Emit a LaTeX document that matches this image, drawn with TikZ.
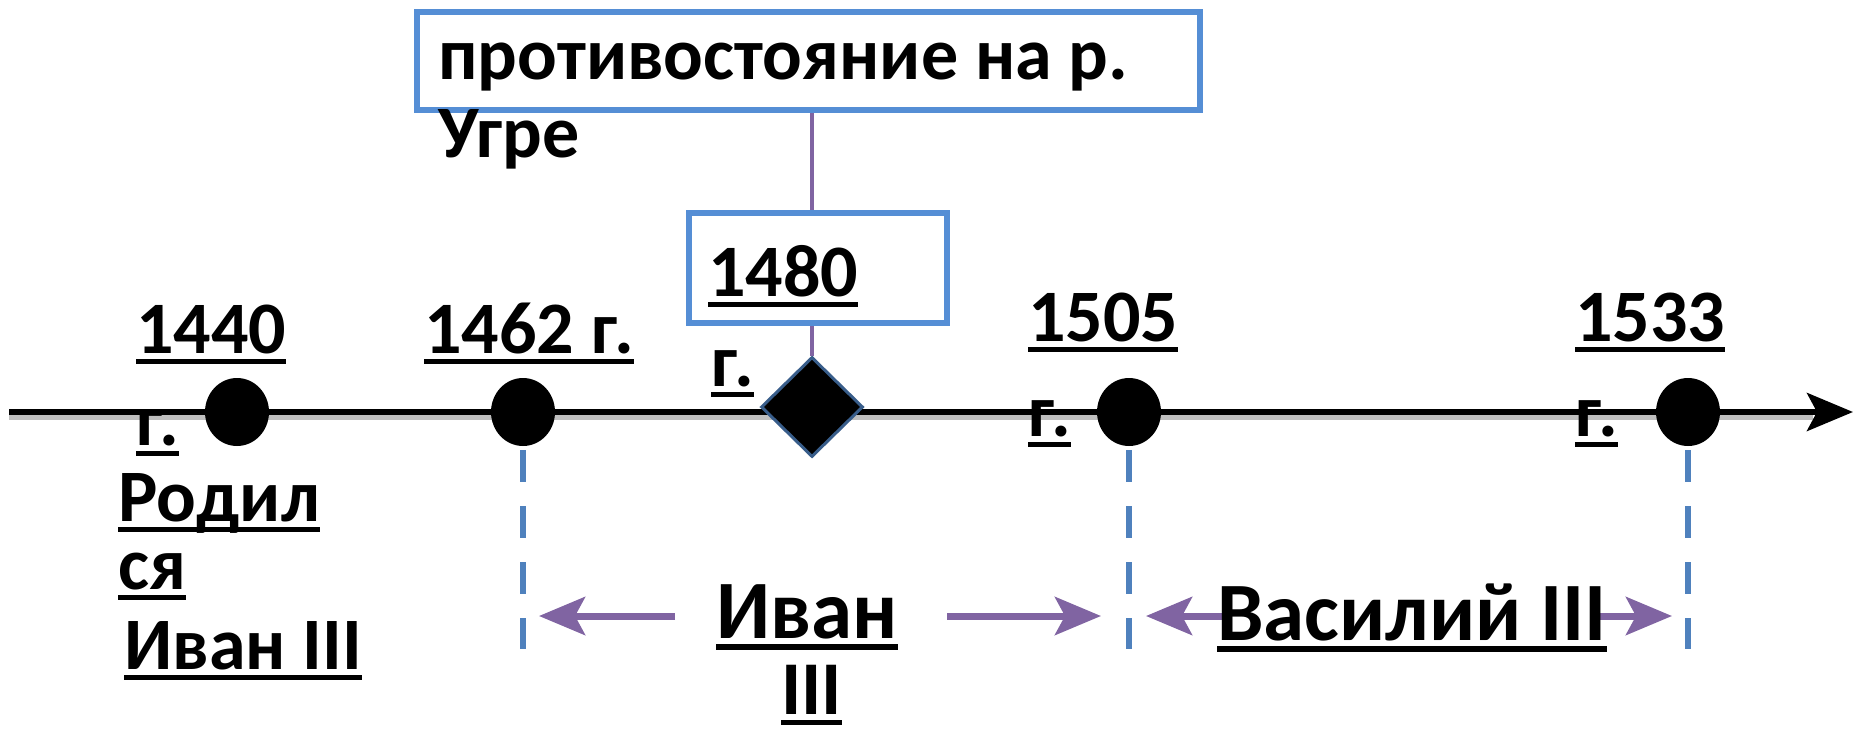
\documentclass[tikz,border=0pt]{standalone}
\usepackage{fontspec}
\setmainfont{Carlito}
\usetikzlibrary{arrows.meta,shapes.geometric}
\definecolor{boxblue}{HTML}{558ED5}
\definecolor{dashblue}{HTML}{4F81BD}
\definecolor{vio}{HTML}{8064A2}
\definecolor{diaedge}{HTML}{385D8A}
\newcommand\myul[1]{\setbox0\hbox{#1}\rlap{\rule[-0.15em]{\wd0}{0.075em}}\box0}
\begin{document}
\begin{tikzpicture}[x=1pt,y=-1pt,
  lbl/.style={inner sep=0pt, anchor=base west, font=\fontsize{74}{88}\selectfont\bfseries},
  biglbl/.style={inner sep=0pt, anchor=base west, font=\fontsize{83}{98}\selectfont\bfseries},
  dot/.style={ellipse, fill=black, inner sep=0pt, minimum width=64pt, minimum height=68pt},
  evbox/.style={draw=boxblue, line width=6pt, inner sep=0pt},
  vline/.style={dashblue, line width=6pt, dash pattern=on 32pt off 24pt},
  period/.style={vio, line width=7pt, -{Stealth[length=46pt,width=38pt,inset=10pt]}},
  link/.style={vio, line width=4pt},
  shadowline/.style={black!25, line width=7pt}]
\useasboundingbox (0,0) rectangle (1857,735);

% axis
\coordinate (a0) at (9,412);
\coordinate (a1) at (1853,412);
\draw[shadowline] ([shift={(0,4)}]a0) -- ([shift={(-40,4)}]a1);
\draw[line width=6pt, -{Stealth[length=46pt,width=38pt,inset=10pt]}] (a0) -- (a1);

% boxes
\node[evbox, minimum width=783pt, minimum height=98pt] (top) at (808.5,61) {};
\node[evbox, minimum width=258pt, minimum height=110pt] (b1480) at (818,268) {};

% diamond
\node[diamond, fill=black, draw=diaedge, line width=3pt, inner sep=0pt,
      minimum width=102pt, minimum height=100pt] (d1480) at (812,407) {};

\draw[link] (top.south -| d1480.north) -- (b1480.north -| d1480.north);
\draw[link] (b1480.south -| d1480.north) -- (d1480.north);

% dots
\node[dot] (d1440) at (237,412) {};
\node[dot] (d1462) at (523,412) {};
\node[dot] (d1505) at (1129,412) {};
\node[dot] (d1533) at (1688,412) {};

% dashed verticals
\coordinate (v1b) at (523,649);
\coordinate (v2b) at (1129,649);
\coordinate (v3b) at (1688,649);
\draw[vline] ([yshift=-4pt]d1462.south) -- (v1b);
\draw[vline] ([yshift=-4pt]d1505.south) -- (v2b);
\draw[vline] ([yshift=-4pt]d1533.south) -- (v3b);

% period arrows
\coordinate (p1t) at (675,616);  \coordinate (p1h) at (539,616);
\coordinate (p2t) at (947,616);  \coordinate (p2h) at (1101,616);
\coordinate (p3t) at (1222,616); \coordinate (p3h) at (1146,616);
\coordinate (p4t) at (1593,616); \coordinate (p4h) at (1672,616);
\draw[period] (p1t) -- (p1h);
\draw[period] (p2t) -- (p2h);
\draw[period] (p3t) -- (p3h);
\draw[period] (p4t) -- (p4h);

% texts
\node[lbl] (t1) at (438,80) {противостояние на р.};
\node[lbl] (t2) at (438,158) {Угре};

\node[lbl] (y1440) at (136,353) {\myul{1440}};
\node[lbl] (g1440) at (136,445) {\myul{г.}};
\node[lbl] (r1) at (118,521) {\myul{Родил}};
\node[lbl] (r2) at (118,589) {\myul{ся}};
\node[lbl] (r3) at (124,669) {\myul{Иван III}};

\node[lbl] (y1462) at (424,353) {\myul{1462 г.}};
\node[lbl] (y1480) at (708,296) {\myul{1480}};
\node[lbl] (g1480) at (711,386) {\myul{г.}};
\node[lbl] (y1505) at (1028,341) {\myul{1505}};
\node[lbl] (g1505) at (1028,436) {\myul{г.}};
\node[lbl] (y1533) at (1575,341) {\myul{1533}};
\node[lbl] (g1533) at (1575,436) {\myul{г.}};

\node[biglbl] (ivan1) at (716,638) {\myul{Иван}};
\node[biglbl, font=\fontsize{76}{90}\selectfont\bfseries] (ivan2) at (781,714) {\myul{III}};
\node[biglbl] (vas) at (1217,640) {\myul{Василий III}};
\end{tikzpicture}
\end{document}
